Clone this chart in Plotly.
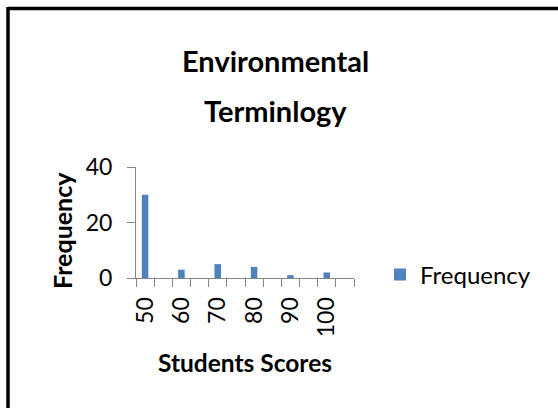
import plotly.graph_objects as go

# histogram bins (labels shown on every other bin, like the original)
bins = ['50', '55', '60', '65', '70', '75', '80', '85', '90', '95', '100', '105']
frequency = [30, 0, 3, 0, 5, 0, 4, 0, 1, 0, 2, 0]
shown_labels = ['50', '', '60', '', '70', '', '80', '', '90', '', '100', '']
y_ticks = [0, 20, 40]

title_lines = ['Environmental', 'Terminlogy']
x_title = 'Students Scores'
y_title = 'Frequency'

FONT = 'Lato'
AXIS_GREY = '#868686'

# plot area in pixels (558x408 canvas)
L, R, T, B = 136, 354, 167, 278
W, H = 558, 408


def px_x(px):
    return (px - L) / (R - L)


def px_y(py):
    return (B - py) / (B - T)


fig = go.Figure()

fig.add_trace(go.Bar(
    x=bins,
    y=frequency,
    name='Frequency',
    marker=dict(color='#4F81BD', line=dict(width=0)),
))

fig.update_layout(
    width=W,
    height=H,
    margin=dict(l=L, r=W - R, t=T, b=H - B, pad=0),
    paper_bgcolor='white',
    plot_bgcolor='white',
    font=dict(family=FONT, color='black'),
    bargap=0.64,
    showlegend=True,
    legend=dict(
        x=px_x(380), xanchor='left',
        y=px_y(275), yanchor='middle',
        font=dict(family=FONT, size=24, color='black'),
        bgcolor='rgba(0,0,0,0)',
    ),
    xaxis=dict(
        type='category',
        tickmode='array',
        tickvals=bins,
        ticktext=shown_labels,
        tickson='boundaries',
        ticks='outside',
        ticklen=8,
        tickcolor=AXIS_GREY,
        tickangle=-90,
        ticklabelstandoff=9,
        tickfont=dict(family=FONT, size=23, color='black'),
        showline=True,
        linecolor=AXIS_GREY,
        linewidth=1,
        showgrid=False,
        zeroline=False,
        fixedrange=True,
    ),
    yaxis=dict(
        range=[0, 40],
        tickmode='array',
        tickvals=y_ticks,
        ticks='outside',
        ticklen=8,
        tickcolor=AXIS_GREY,
        ticklabelstandoff=10,
        tickfont=dict(family=FONT, size=23, color='black'),
        showline=True,
        linecolor=AXIS_GREY,
        linewidth=1,
        showgrid=False,
        zeroline=False,
        fixedrange=True,
    ),
)

# chart title, two lines
for line, py in zip(title_lines, [60, 110]):
    fig.add_annotation(
        text='<b>' + line + '</b>',
        xref='paper', yref='paper',
        x=px_x(275), y=px_y(py),
        xanchor='center', yanchor='middle',
        showarrow=False,
        font=dict(family=FONT, size=29, color='black'),
    )

# axis titles
fig.add_annotation(
    text='<b>' + x_title + '</b>',
    xref='paper', yref='paper',
    x=px_x(245), y=px_y(362),
    xanchor='center', yanchor='middle',
    showarrow=False,
    font=dict(family=FONT, size=24.5, color='black'),
)
fig.add_annotation(
    text='<b>' + y_title + '</b>',
    xref='paper', yref='paper',
    x=px_x(62), y=px_y(231),
    xanchor='center', yanchor='middle',
    textangle=-90,
    showarrow=False,
    font=dict(family=FONT, size=25, color='black'),
)

# chart frame (only top and left edges visible in the crop)
fig.add_shape(type='line', xref='paper', yref='paper',
              x0=px_x(8), x1=px_x(W + 10), y0=px_y(8.5), y1=px_y(8.5),
              line=dict(color='black', width=3.5))
fig.add_shape(type='line', xref='paper', yref='paper',
              x0=px_x(8), x1=px_x(8), y0=px_y(7), y1=px_y(H + 10),
              line=dict(color='black', width=3.5))

# drop the default page margin so the figure sits at the window origin
fig.write_html("out.html", config={'displayModeBar': False},
               post_script="document.body.style.margin='0';")
